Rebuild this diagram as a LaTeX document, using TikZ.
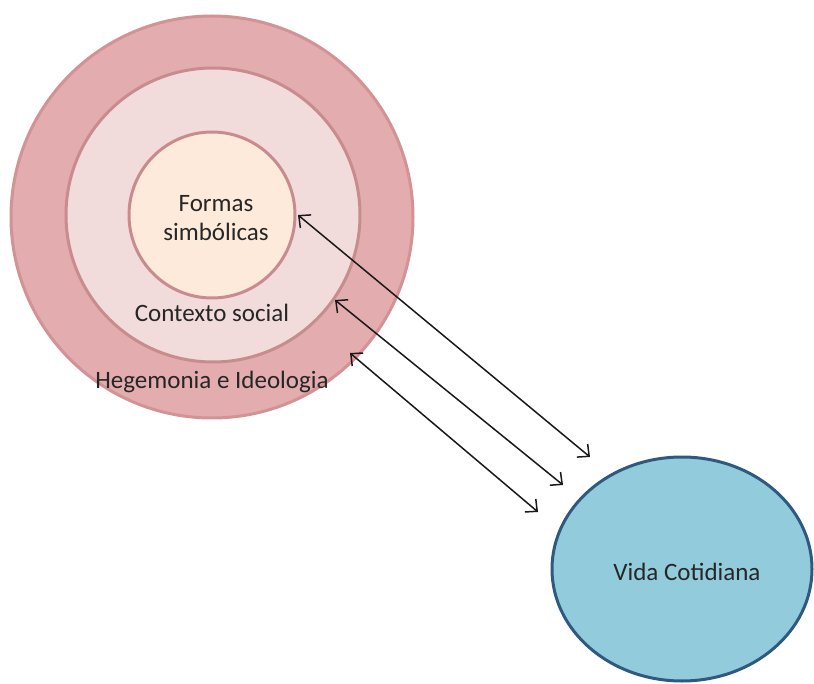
\documentclass[tikz,border=0pt]{standalone}
\usepackage{fontspec}
\setmainfont{Carlito}
\usetikzlibrary{arrows.meta,shapes.geometric}
\definecolor{outerfill}{HTML}{E3ACAF}
\definecolor{outerdraw}{HTML}{D39294}
\definecolor{midfill}{HTML}{F2DCDB}
\definecolor{middraw}{HTML}{C98C8E}
\definecolor{innerfill}{HTML}{FDEADA}
\definecolor{innerdraw}{HTML}{C98C8E}
\definecolor{bluefill}{HTML}{92CCDC}
\definecolor{bluedraw}{HTML}{2F5A80}
\definecolor{txt}{HTML}{262626}
\tikzset{
  ring/.style={circle, inner sep=0pt, line width=3pt},
  lbl/.style={text=txt, font=\fontsize{25}{30}\selectfont, inner sep=0pt, align=center},
  link/.style={line width=1.5pt, draw=black!90, {Straight Barb[length=9pt,width=17pt]}-{Straight Barb[length=9pt,width=17pt]}}
}
\begin{document}
\begin{tikzpicture}[x=1pt,y=-1pt]
\useasboundingbox (0,0) rectangle (814,684);
\node[ring, minimum size=402pt, fill=outerfill, draw=outerdraw] (outer) at (212,217) {};
\node[ring, minimum size=294pt, fill=midfill, draw=middraw] (middle) at (213,215) {};
\node[ring, minimum size=166pt, fill=innerfill, draw=innerdraw] (inner) at (212,215) {};
\node[ellipse, inner sep=0pt, minimum width=260pt, minimum height=224pt, fill=bluefill, draw=bluedraw, line width=3pt] (vida) at (682,569) {};
\node[lbl] (formas) at (216,218) {Formas\\[-1pt]simbólicas};
\node[lbl] (contexto) at (212,313) {Contexto social};
\node[lbl] (hegemonia) at (212,382) {Hegemonia e Ideologia};
\node[lbl] (vidatxt) at (687,572) {Vida Cotidiana};
\coordinate (s1) at (298,215);
\coordinate (e1) at (590,457);
\coordinate (s2) at (335,300);
\coordinate (e2) at (563,485);
\coordinate (s3) at (350,353);
\coordinate (e3) at (538,512);
\draw[link] (s1) -- (e1);
\draw[link] (s2) -- (e2);
\draw[link] (s3) -- (e3);
\end{tikzpicture}
\end{document}
